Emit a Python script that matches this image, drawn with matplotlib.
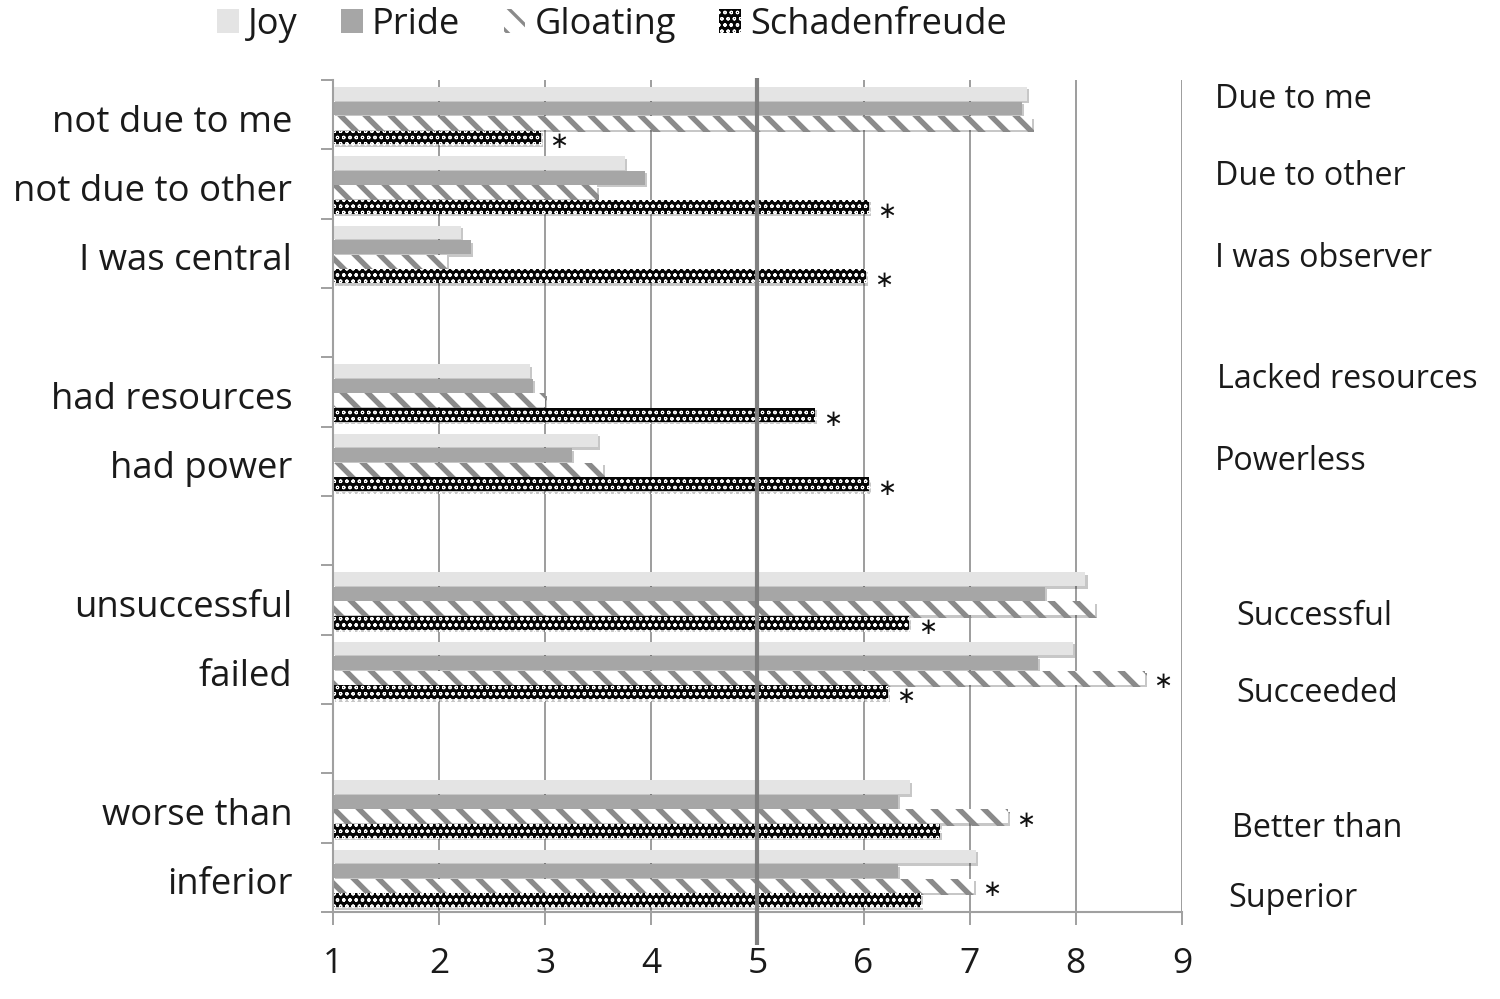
import numpy as np
import matplotlib
matplotlib.use("Agg")
import matplotlib.pyplot as plt
import matplotlib.patheffects as pe
import matplotlib.transforms as mtransforms

# ---------------- data ----------------
categories = ['not due to me', 'not due to other', 'I was central',
              'had resources', 'had power',
              'unsuccessful', 'failed',
              'worse than', 'inferior']
group_sizes = [3, 2, 2, 2]
opposites = ['Due to me', 'Due to other', 'I was observer',
             'Lacked resources', 'Powerless',
             'Successful', 'Succeeded',
             'Better than', 'Superior']
series_names = ['Joy', 'Pride', 'Gloating', 'Schadenfreude']
joy = [7.54, 3.75, 2.21, 2.86, 3.50, 8.09, 7.97, 6.44, 7.06]
pride = [7.49, 3.94, 2.30, 2.88, 3.25, 7.71, 7.64, 6.32, 6.32]
gloating = [7.59, 3.49, 2.07, 3.00, 3.54, 8.18, 8.65, 7.36, 7.04]
schadenfreude = [2.96, 6.05, 6.02, 5.54, 6.05, 6.43, 6.23, 6.72, 6.54]
# significance markers: (category index, series index)
significant = [(0, 3), (1, 3), (2, 3), (3, 3), (4, 3), (5, 3),
               (6, 2), (6, 3), (7, 2), (8, 2)]
scale_min, scale_max, midpoint = 1, 9, 5
xtick_values = [1, 2, 3, 4, 5, 6, 7, 8, 9]

# ---------------- layout / style ----------------
plt.rcParams['font.family'] = ['Open Sans', 'DejaVu Sans']
DPI = 150
fig = plt.figure(figsize=(1500 / DPI, 999 / DPI), dpi=DPI)
ax = fig.add_axes([0.222, 0.0871, 0.566, 0.8328])


def set_hlw(patch, lw):
    if hasattr(patch, 'set_hatch_linewidth'):
        patch.set_hatch_linewidth(lw)


# slot positions (one slot per category, one blank slot between groups)
slots = []
s = 0
for gi, n in enumerate(group_sizes):
    for k in range(n):
        slots.append(s)
        s += 1
    if gi < len(group_sizes) - 1:
        s += 1
n_slots = s
slots = np.array(slots, dtype=float)

bar_h = 0.2
offsets = [0.2, 0.41, 0.62, 0.83]
values = [joy, pride, gloating, schadenfreude]
styles = [
    dict(facecolor='#e4e4e4', edgecolor='#e4e4e4', hatch=None, hlw=1.0),
    dict(facecolor='#a6a6a6', edgecolor='#a6a6a6', hatch=None, hlw=1.0),
    dict(facecolor='white', edgecolor='#8a8a8a', hatch='\\\\', hlw=2.6),
    dict(facecolor='#050505', edgecolor='white', hatch='oooo', hlw=0.5),
]
shadow = [pe.SimplePatchShadow(offset=(1.0, -1.2), shadow_rgbFace='k', alpha=0.22),
          pe.Normal()]

containers = []
for i, (vals, st) in enumerate(zip(values, styles)):
    y = slots + offsets[i]
    widths = np.array(vals) - scale_min
    with plt.rc_context({'hatch.linewidth': st['hlw']}):
        bc = ax.barh(y, widths, left=scale_min, height=bar_h,
                     facecolor=st['facecolor'], edgecolor=st['edgecolor'],
                     hatch=st['hatch'], linewidth=0, zorder=2,
                     label=series_names[i])
    for p in bc.patches:
        p.set_path_effects(shadow)
        set_hlw(p, st['hlw'])
    containers.append(bc)

# significance asterisks
for ci, si in significant:
    v = values[si][ci]
    ax.text(v + 0.08, slots[ci] + offsets[si] + 0.06, '\u2217',
            fontsize=11, family='DejaVu Sans', ha='left', va='center',
            color='#111111', zorder=5, clip_on=False)

# axes styling
ax.set_xlim(scale_min, scale_max)
ax.set_ylim(n_slots, 0)
ax.set_xticks(xtick_values)
ax.set_xticklabels([str(v) for v in xtick_values])
ax.set_yticks(np.arange(0, n_slots + 1))
ax.set_yticklabels([])
ax.grid(axis='x', color='#8c8c8c', linewidth=0.8, zorder=0.5)
ax.set_axisbelow(True)
for side in ['top', 'right']:
    ax.spines[side].set_visible(False)
for side in ['left', 'bottom']:
    ax.spines[side].set_color('#a0a0a0')
    ax.spines[side].set_linewidth(1.0)
ax.tick_params(axis='x', direction='out', length=6, width=0.8, color='#909090',
               pad=11, labelsize=17, labelcolor='#1a1a1a')
ax.tick_params(axis='y', direction='out', length=6, width=0.8, color='#909090')

# midpoint line
ax.plot([midpoint, midpoint], [-0.03, n_slots + 0.48], color='#7f7f7f',
        linewidth=2.0, zorder=4, clip_on=False, solid_capstyle='butt')

# left category labels
trans_left = mtransforms.blended_transform_factory(ax.transAxes, ax.transData)
for lab, sl in zip(categories, slots):
    ax.text(-0.048, sl + 0.5 + 0.245, lab, transform=trans_left,
            ha='right', va='baseline', fontsize=17.5, color='#1a1a1a')

# right (opposite) labels
right_x = [9.31, 9.31, 9.31, 9.33, 9.31, 9.51, 9.51, 9.47, 9.44]
right_y = [0.40, 1.51, 2.70, 4.44, 5.62, 7.86, 8.97, 10.92, 11.93]
for lab, xx, yy in zip(opposites, right_x, right_y):
    ax.text(xx, yy, lab, ha='left', va='baseline', fontsize=15.5,
            color='#1a1a1a', clip_on=False)

# legend
legend_patches_lw = [st['hlw'] for st in styles]
with plt.rc_context({'hatch.linewidth': 1.6}):
    leg = fig.legend(handles=containers, labels=series_names, loc='center',
                     bbox_to_anchor=(0.408, 0.975), ncol=4, frameon=False,
                     fontsize=17.4, handlelength=0.6, handleheight=0.65,
                     handletextpad=0.25, columnspacing=1.2, borderpad=0.1)
for t, p, lw in zip(leg.get_texts(), leg.get_patches(), legend_patches_lw):
    t.set_color('#1a1a1a')
    p.set_path_effects([pe.Normal()])
    set_hlw(p, min(lw, 1.6))

fig.savefig('out.png', dpi=DPI)
